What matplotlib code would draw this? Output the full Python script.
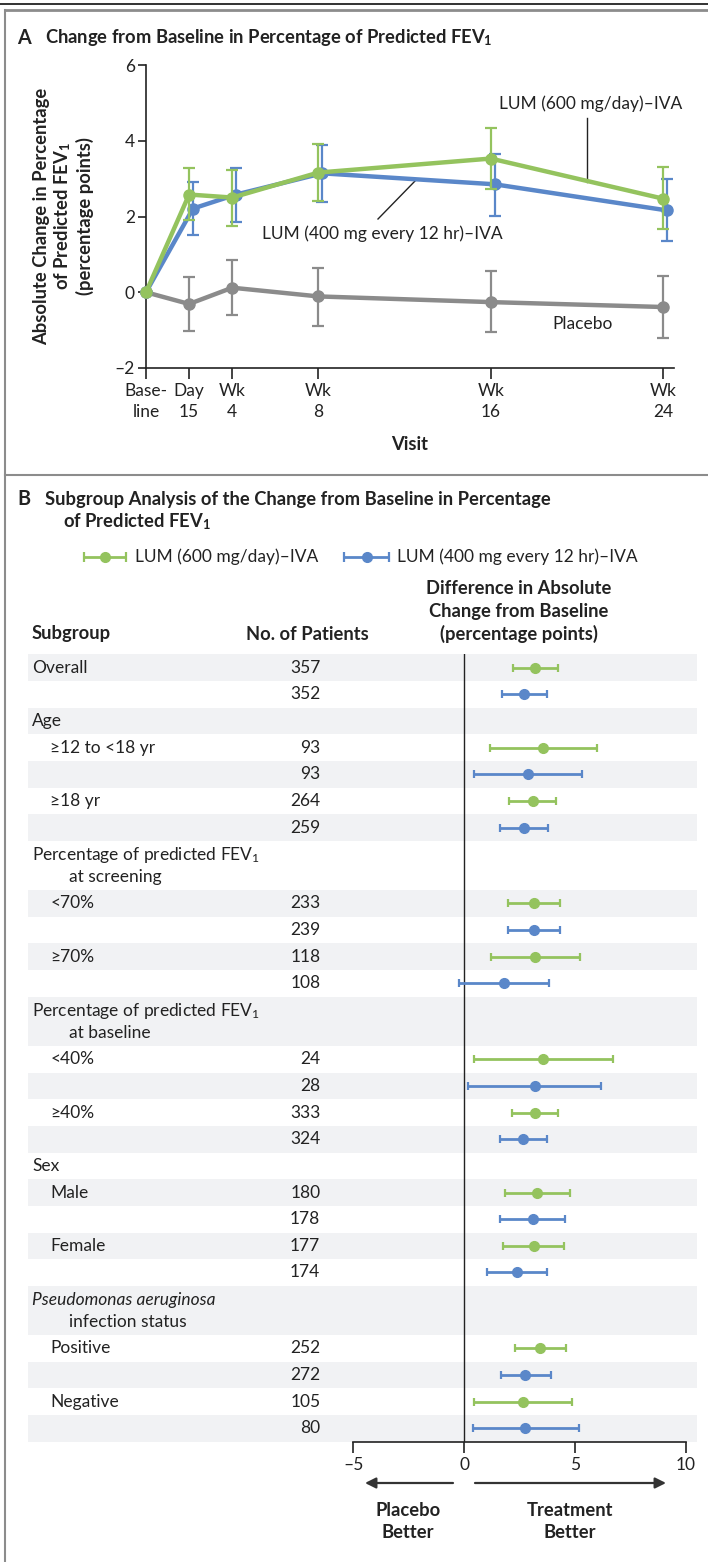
import matplotlib
matplotlib.use("Agg")
import matplotlib.pyplot as plt

plt.rcParams['font.family'] = ['Lato', 'DejaVu Sans']
plt.rcParams['mathtext.fontset'] = 'custom'
plt.rcParams['mathtext.rm'] = 'Lato'
plt.rcParams['mathtext.it'] = 'Lato:italic'
plt.rcParams['mathtext.bf'] = 'Lato:bold'

GREEN = '#94c35e'
BLUE = '#5a87c9'
GRAY = '#8b8b8b'
INK = '#222222'
BAND = '#f1f2f4'
FS = 12.5
FSB = 13.2

# ---- panel A data (weeks since baseline) ----
visit_weeks = [0, 2, 4, 8, 16, 24]
visit_labels = ['Base-\nline', 'Day\n15', 'Wk\n4', 'Wk\n8', 'Wk\n16', 'Wk\n24']
lum600_mean = [0, 2.58, 2.50, 3.16, 3.53, 2.47]
lum600_lo = [0, 1.90, 1.76, 2.40, 2.72, 1.67]
lum600_hi = [0, 3.27, 3.22, 3.92, 4.33, 3.31]
lum400_mean = [0, 2.21, 2.58, 3.14, 2.85, 2.16]
lum400_lo = [0, 1.52, 1.85, 2.38, 2.01, 1.34]
lum400_hi = [0, 2.91, 3.29, 3.89, 3.64, 2.99]
placebo_mean = [0, -0.31, 0.12, -0.11, -0.26, -0.39]
placebo_lo = [0, -1.01, -0.60, -0.88, -1.05, -1.21]
placebo_hi = [0, 0.40, 0.84, 0.64, 0.56, 0.43]

# ---- panel B data ----
sub_names = ['Overall', '≥12 to <18 yr', '≥18 yr', '<70%', '≥70%', '<40%', '≥40%',
             'Male', 'Female', 'Positive', 'Negative']
n600 = [357, 93, 264, 233, 118, 24, 333, 180, 177, 252, 105]
n400 = [352, 93, 259, 239, 108, 28, 324, 178, 174, 272, 80]
est600 = [3.20, 3.56, 3.10, 3.16, 3.22, 3.58, 3.20, 3.28, 3.14, 3.44, 2.65]
lo600 = [2.22, 1.16, 2.04, 2.00, 1.20, 0.45, 2.16, 1.83, 1.77, 2.30, 0.45]
hi600 = [4.24, 5.99, 4.15, 4.32, 5.23, 6.70, 4.26, 4.77, 4.50, 4.60, 4.87]
est400 = [2.71, 2.87, 2.69, 3.16, 1.81, 3.20, 2.67, 3.10, 2.38, 2.77, 2.77]
lo400 = [1.71, 0.47, 1.63, 2.00, -0.24, 0.18, 1.61, 1.63, 1.02, 1.65, 0.41]
hi400 = [3.75, 5.32, 3.77, 4.32, 3.85, 6.19, 3.75, 4.54, 3.75, 3.91, 5.17]
# header rows placed before the subgroup with that index
headers = {1: ['Age'],
           3: ['Percentage of predicted FEV$_1$', 'at screening'],
           5: ['Percentage of predicted FEV$_1$', 'at baseline'],
           7: ['Sex'],
           9: ['Pseudomonas aeruginosa', 'infection status']}

W, H = 708, 1562
fig = plt.figure(figsize=(W / 100, H / 100), dpi=100)


def box(l, t, r, b):
    return [l / W, 1 - b / H, (r - l) / W, (b - t) / H]


ov = fig.add_axes([0, 0, 1, 1], zorder=0)
ov.set_xlim(0, W)
ov.set_ylim(H, 0)
ov.axis('off')

# frame lines
ov.plot([0, W], [4, 4], color=INK, lw=1.3)
ov.plot([5, W], [10, 10], color='#8c8c8c', lw=2)
ov.plot([5, 5], [10, H], color='#8c8c8c', lw=1.5)
ov.plot([5, W], [475, 475], color='#8c8c8c', lw=1.5)

# ---------------- panel A ----------------
ov.text(17, 38, 'A', fontsize=FSB + 1, fontweight='bold', color=INK, va='center')
ov.text(45, 38, 'Change from Baseline in Percentage of Predicted FEV$_\\mathbf{1}$',
        fontsize=FSB, fontweight='bold', color=INK, va='center')

axA = fig.add_axes(box(146, 65, 674, 368), zorder=1)
axA.patch.set_alpha(0)
axA.set_xlim(0, 24.5)
axA.set_ylim(-2, 6)
for s in ['top', 'right']:
    axA.spines[s].set_visible(False)
for s in ['left', 'bottom']:
    axA.spines[s].set_color(INK)
    axA.spines[s].set_linewidth(1.2)
axA.set_xticks(visit_weeks)
axA.set_xticklabels(visit_labels, fontsize=FS, color=INK, linespacing=1.35)
axA.set_yticks([-2, 0, 2, 4, 6])
axA.set_yticklabels(['\u20132', '0', '2', '4', '6'], fontsize=FS, color=INK)
axA.tick_params(axis='x', length=8, width=1.2, pad=3, color=INK)
axA.tick_params(axis='y', length=6, width=1.2, pad=2, color=INK)

blue_x = [w + 0.18 if w > 0 else w for w in visit_weeks]
series = [(visit_weeks, placebo_mean, placebo_lo, placebo_hi, GRAY),
          (blue_x, lum400_mean, lum400_lo, lum400_hi, BLUE),
          (visit_weeks, lum600_mean, lum600_lo, lum600_hi, GREEN)]
for xs, m, lo, hi, c in series:
    axA.plot(xs, m, color=c, lw=3.2, marker='o', ms=8, clip_on=False, zorder=3)
    err = [[m[i] - lo[i] for i in range(1, len(m))], [hi[i] - m[i] for i in range(1, len(m))]]
    axA.errorbar(xs[1:], m[1:], yerr=err, fmt='none', ecolor=c, elinewidth=1.6,
                 capsize=4.5, capthick=1.6, zorder=3)

axA.set_ylabel('Absolute Change in Percentage\nof Predicted FEV$_\\mathbf{1}$\n(percentage points)',
               fontsize=FSB, fontweight='bold', color=INK, linespacing=1.15, labelpad=15)

ov.text(499, 104, 'LUM (600 mg/day)\u2013IVA', fontsize=FS, color=INK, va='center')
ov.plot([587, 587], [118, 182], color=INK, lw=1)
ov.text(262, 234, 'LUM (400 mg every 12 hr)\u2013IVA', fontsize=FS, color=INK, va='center')
ov.plot([378, 416], [219, 180], color=INK, lw=1)
ov.text(552, 324, 'Placebo', fontsize=FS, color=INK, va='center')
ov.text(410, 445, 'Visit', fontsize=FSB, fontweight='bold', color=INK, ha='center', va='center')

# ---------------- panel B ----------------
ov.text(17, 499, 'B', fontsize=FSB + 1, fontweight='bold', color=INK, va='center')
ov.text(45, 499, 'Subgroup Analysis of the Change from Baseline in Percentage',
        fontsize=FSB, fontweight='bold', color=INK, va='center')
ov.text(63, 522, 'of Predicted FEV$_\\mathbf{1}$', fontsize=FSB, fontweight='bold', color=INK, va='center')

# legend
for (x0, x1, xt, c, lab) in [(84, 126, 135, GREEN, 'LUM (600 mg/day)\u2013IVA'),
                             (344, 389, 397, BLUE, 'LUM (400 mg every 12 hr)\u2013IVA')]:
    ov.errorbar([(x0 + x1) / 2], [557], xerr=[(x1 - x0) / 2], fmt='o', color=c, ms=7,
                elinewidth=2, capsize=3.5, capthick=1.6)
    ov.text(xt, 557, lab, fontsize=FS, color=INK, va='center')

ov.text(32, 634, 'Subgroup', fontsize=FSB, fontweight='bold', color=INK, va='center')
ov.text(246, 634, 'No. of Patients', fontsize=FSB, fontweight='bold', color=INK, va='center')
for yy, line in zip([588, 611, 634], ['Difference in Absolute', 'Change from Baseline',
                                      '(percentage points)']):
    ov.text(519, yy, line, fontsize=FSB, fontweight='bold', color=INK, ha='center', va='center')

# build rows
rows = []  # (kind, y_top, height, payload)
y = 0.0
DOUBLE = 1.85
for i, name in enumerate(sub_names):
    if i in headers:
        h = DOUBLE if len(headers[i]) > 1 else 1.0
        rows.append(('header', y, h, headers[i]))
        y += h
    rows.append(('g', y, 1.0, i))
    y += 1.0
    rows.append(('b', y, 1.0, i))
    y += 1.0
total = y

axB = fig.add_axes(box(28, 654.3, 697, 1441.7), zorder=1)
axB.patch.set_alpha(0)
x_lo = (28 - 464) / 22.17
x_hi = (697 - 464) / 22.17
axB.set_xlim(x_lo, x_hi)
axB.set_ylim(total, 0)
for s in ['top', 'right', 'left']:
    axB.spines[s].set_visible(False)
axB.spines['bottom'].set_bounds(-5, 10)
axB.spines['bottom'].set_color(INK)
axB.spines['bottom'].set_linewidth(1.2)
axB.set_yticks([])
axB.set_xticks([-5, 0, 5, 10])
axB.set_xticklabels(['\u20135', '0', '5', '10'], fontsize=FS, color=INK)
axB.tick_params(axis='x', length=8, width=1.2, pad=3, color=INK)
axB.axvline(0, color=INK, lw=1, zorder=2)

tr = axB.get_yaxis_transform()
for k, (kind, yt, h, p) in enumerate(rows):
    if k % 2 == 0:
        axB.axhspan(yt, yt + h, color=BAND, lw=0, zorder=0)
    if kind == 'header':
        style = 'italic' if p[0].startswith('Pseudomonas') else 'normal'
        axB.text(0.006, yt + 0.52, p[0], transform=tr, fontsize=FS, color=INK,
                 va='center', style=style)
        if len(p) > 1:
            axB.text(0.0607, yt + 1.35, p[1], transform=tr, fontsize=FS, color=INK, va='center')
        continue
    yc = yt + 0.5
    if kind == 'g':
        name = sub_names[p]
        xl = 0.006 if p == 0 else 0.0336
        axB.text(xl, yc, name, transform=tr, fontsize=FS, color=INK, va='center')
        est, lo, hi, n, c = est600[p], lo600[p], hi600[p], n600[p], GREEN
    else:
        est, lo, hi, n, c = est400[p], lo400[p], hi400[p], n400[p], BLUE
    axB.text(0.437, yc, str(n), transform=tr, fontsize=FS, color=INK, va='center', ha='right')
    axB.errorbar([est], [yc], xerr=[[est - lo], [hi - est]], fmt='o', color=c, ms=7,
                 elinewidth=2, capsize=3, capthick=1.6, zorder=3)

# arrows
arrow = dict(arrowstyle='-|>', color='#333333', lw=1.6, mutation_scale=16, shrinkA=0, shrinkB=0)
ov.annotate('', xy=(365, 1483), xytext=(453, 1483), arrowprops=arrow)
ov.annotate('', xy=(666, 1483), xytext=(475, 1483), arrowprops=arrow)
for xx, txt in [(408, ['Placebo', 'Better']), (570, ['Treatment', 'Better'])]:
    ov.text(xx, 1510, txt[0], fontsize=FSB, fontweight='bold', color=INK, ha='center', va='center')
    ov.text(xx, 1533, txt[1], fontsize=FSB, fontweight='bold', color=INK, ha='center', va='center')

fig.savefig('out.png', dpi=100)
